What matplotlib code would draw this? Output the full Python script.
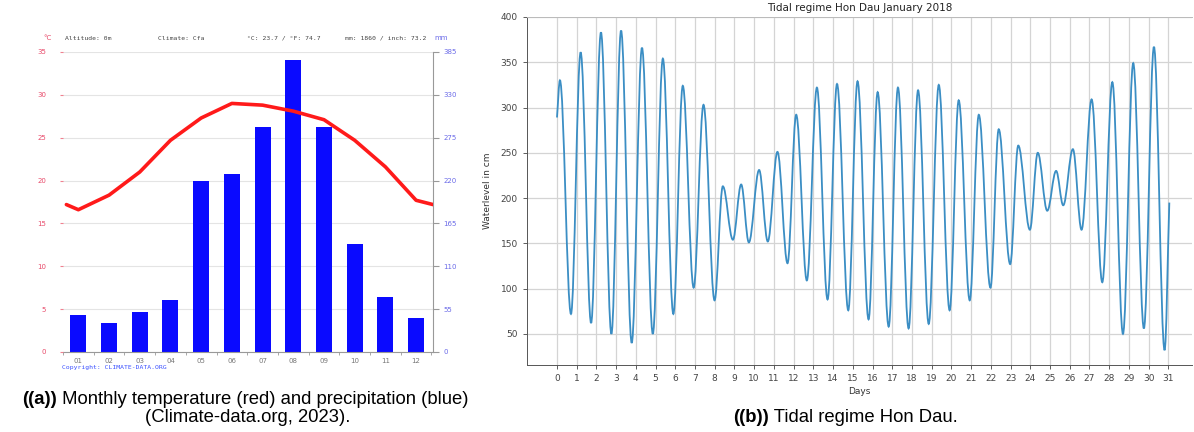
import numpy as np
import matplotlib
matplotlib.use("Agg")
import matplotlib.pyplot as plt
from matplotlib.path import Path
from matplotlib.patches import PathPatch

# --- данные (a): климат, climate-data.org ---
months = ['01', '02', '03', '04', '05', '06', '07', '08', '09', '10', '11', '12']
temp_c = [16.6, 18.3, 21.0, 24.7, 27.3, 29.0, 28.8, 28.1, 27.1, 24.7, 21.6, 17.7]
temp_edge = 17.2  # значение линии на краях графика
precip_mm = [47, 37, 51, 67, 219, 228, 289, 375, 289, 139, 71, 44]
temp_ticks = [0, 5, 10, 15, 20, 25, 30, 35]
precip_ticks = [0, 55, 110, 165, 220, 275, 330, 385]
header = ['Altitude: 0m', 'Climate: Cfa', '°C: 23.7 / °F: 74.7', 'mm: 1860 / inch: 73.2']

# --- данные (b): экстремумы уровня воды, Hon Dau, январь 2018 ---
tide_days = [0.0, 0.15, 0.71, 1.2, 1.73, 2.23, 2.76, 3.25, 3.79, 4.31, 4.86, 5.37,
             5.9, 6.38, 6.93, 7.43, 7.99, 8.41, 8.92, 9.34, 9.73, 10.25, 10.69,
             11.18, 11.69, 12.13, 12.67, 13.18, 13.72, 14.2, 14.77, 15.24, 15.8,
             16.26, 16.82, 17.29, 17.83, 18.31, 18.85, 19.36, 19.91, 20.37, 20.93,
             21.39, 21.98, 22.4, 22.98, 23.39, 23.98, 24.38, 24.86, 25.31, 25.67,
             26.16, 26.6, 27.11, 27.65, 28.16, 28.7, 29.22, 29.76, 30.27, 30.81, 31.05]
tide_cm = [289, 330, 72, 361, 62, 383, 50, 385, 40, 366, 50, 354,
           72, 324, 101, 303, 87, 213, 154, 215, 151, 231, 152,
           251, 128, 292, 109, 322, 88, 326, 76, 329, 66,
           317, 58, 322, 56, 319, 61, 325, 76, 308, 87,
           292, 101, 276, 127, 258, 165, 250, 186, 230, 192,
           254, 165, 309, 107, 328, 50, 349, 56, 367, 32, 195]
day_ticks = list(range(0, 32))
level_ticks = [50, 100, 150, 200, 250, 300, 350, 400]

fig = plt.figure(figsize=(11.94, 4.32), dpi=100)
W, H = 1194.0, 432.0

# ================= (a) =================
axp = fig.add_axes([63 / W, 1 - 352 / H, 370 / W, 300 / H])
x = np.arange(1, 13)
axp.bar(x, precip_mm, width=0.52, color='#0a0aff', zorder=2)
axp.set_ylim(0, 385)
axp.set_xlim(0.61, 12.55)
axp.set_xticks(x)
axp.set_xticklabels(months)
axp.set_xticks(np.arange(0.5, 13, 1), minor=True)
axp.tick_params(axis='x', which='major', length=0, labelsize=5, labelcolor='#777777', pad=4)
axp.tick_params(axis='x', which='minor', length=2, color='#999999')
axp.grid(axis='y', color='#e4e4e4', lw=0.8, zorder=0)

# температура поверх столбцов
axt = axp.twinx()
xt = np.r_[0.61, x, 12.55]
yt = np.r_[temp_edge, temp_c, temp_edge]
axt.plot(xt, yt, color='#ff1a1a', lw=2.6, solid_capstyle='round')
axt.set_ylim(0, 35)
axt.set_yticks(temp_ticks)
for s in axt.spines.values():
    s.set_visible(False)

# оси: осадки справа, температура слева (после twinx)
axp.yaxis.tick_right()
axp.set_yticks(precip_ticks)
axp.tick_params(axis='y', colors='#999999', labelcolor='#6a6ae8', labelsize=5, length=4)
axt.yaxis.tick_left()
axt.tick_params(axis='y', colors='#f08090', labelcolor='#e84a6a', labelsize=5,
                length=2, pad=10)
for s in ['top', 'left']:
    axp.spines[s].set_visible(False)
axp.spines['right'].set_color('#999999')
axp.spines['bottom'].set_color('#999999')

# шапка графика
hy = 1 - 38 / H
fig.text(47 / W, hy, '°C', color='#e84a6a', fontsize=5, ha='center', va='center')
fig.text(441 / W, hy, 'mm', color='#6a6ae8', fontsize=5, ha='center', va='center')
for hx, s in zip([65, 158, 247, 345], header):
    fig.text(hx / W, hy, s, family='DejaVu Sans Mono', fontsize=4.6,
             color='#444444', ha='left', va='center')
fig.text(62 / W, 1 - 367 / H, 'Copyright: CLIMATE-DATA.ORG', family='DejaVu Sans Mono',
         fontsize=4.6, color='#3a50ff', ha='left', va='center')

# ================= (b) =================
axb = fig.add_axes([527 / W, 1 - 365 / H, 665 / W, 348 / H])
k = 0.364
verts = [(tide_days[0], tide_cm[0])]
codes = [Path.MOVETO]
n = len(tide_days)
for i in range(n - 1):
    t0, y0 = tide_days[i], tide_cm[i]
    t1, y1 = tide_days[i + 1], tide_cm[i + 1]
    dt = t1 - t0
    if i == 0:
        c1 = (t0 + k * dt, y0 + k * (y1 - y0))
    else:
        c1 = (t0 + k * dt, y0)
    if i == n - 2:
        c2 = (t1 - k * dt, y1 - k * (y1 - y0))
    else:
        c2 = (t1 - k * dt, y1)
    verts += [c1, c2, (t1, y1)]
    codes += [Path.CURVE4] * 3
axb.add_patch(PathPatch(Path(verts, codes), fill=False, edgecolor='#3b8ec4', lw=1.3, zorder=3))

axb.set_xlim(-1.52, 32.2)
axb.set_ylim(15.6, 400)
axb.set_xticks(day_ticks)
axb.set_yticks(level_ticks)
axb.grid(True, color='#d4d4d4', lw=0.9, zorder=0)
axb.tick_params(labelsize=6.5, colors='#444444', length=3, width=0.6)
axb.set_title('Tidal regime Hon Dau January 2018', fontsize=7.5, color='#222222', pad=4)
axb.set_xlabel('Days', fontsize=6.5, color='#333333', labelpad=3)
axb.set_ylabel('Waterlevel in cm', fontsize=6.5, color='#333333', labelpad=6)
axb.spines['right'].set_visible(False)
axb.spines['top'].set_color('#bbbbbb')
axb.spines['left'].set_color('#555555')
axb.spines['bottom'].set_color('#555555')
for s in axb.spines.values():
    s.set_linewidth(0.7)

# ================= подписи =================
cap = dict(family='Liberation Sans', fontsize=13.3, color='black')
t1 = fig.text(22 / W, 1 - 400 / H, '((a))', weight='bold', va='center', **cap)
plt.annotate(' Monthly temperature (red) and precipitation (blue)', xy=(1, 0.5),
             xycoords=t1, va='center', ha='left', **cap)
fig.text(248 / W, 1 - 418 / H, '(Climate-data.org, 2023).', ha='center', va='center', **cap)
t2 = fig.text(733 / W, 1 - 418 / H, '((b))', weight='bold', va='center', **cap)
plt.annotate(' Tidal regime Hon Dau.', xy=(1, 0.5), xycoords=t2,
             va='center', ha='left', **cap)

fig.savefig('out.png', dpi=100)
